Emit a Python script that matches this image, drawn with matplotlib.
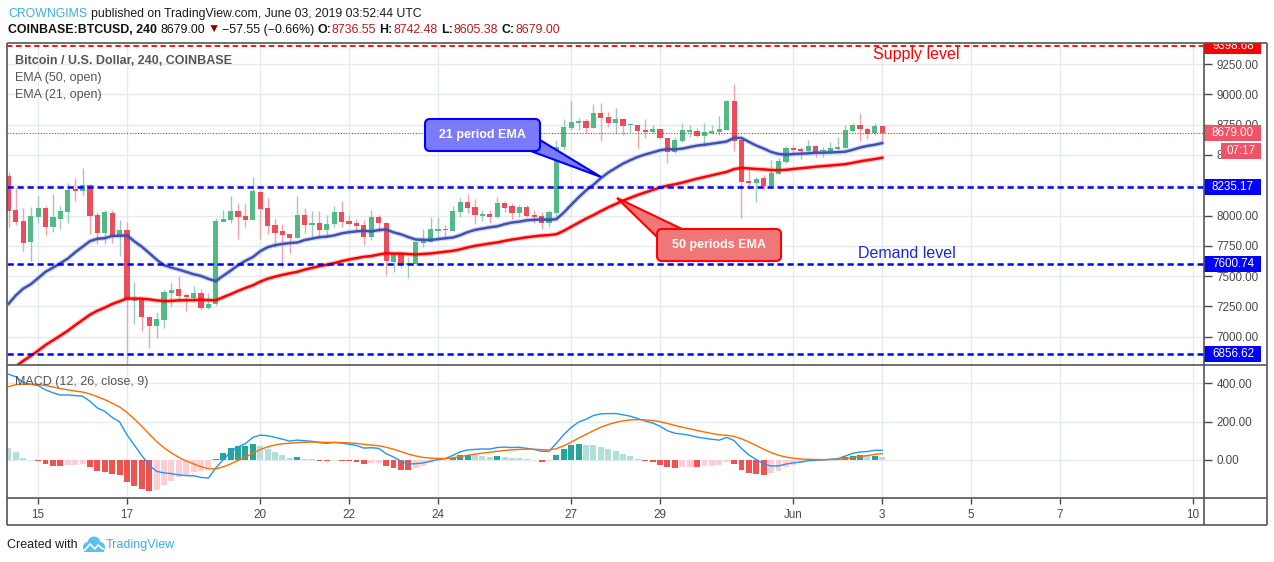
import numpy as np
import pandas as pd
import matplotlib
matplotlib.use("Agg")
import matplotlib.pyplot as plt
from matplotlib.patches import Rectangle, FancyBboxPatch, Polygon, Circle

plt.rcParams['font.family'] = ['Liberation Sans', 'DejaVu Sans']

# ---------------- data (4h candles, COINBASE:BTCUSD) ----------------
START = "2019-05-14 08:00"
opens = [8326, 8045, 7955, 7783, 7990, 8060, 7907, 7971, 8031, 8211,
         8205, 8252, 8004, 7858, 8018, 7839, 7880, 7290, 7302, 7164,
         7089, 7136, 7362, 7393, 7343, 7321, 7357, 7238, 7266, 7949,
         7963, 8037, 7996, 7963, 8194, 8064, 7921, 7872, 7847, 7817,
         8004, 7925, 7936, 7880, 7927, 8029, 7957, 7936, 7921, 7820,
         7985, 7940, 7618, 7688, 7591, 7599, 7775, 7783, 7875, 7885,
         7874, 8031, 8114, 8070, 8000, 8012, 7985, 8106, 8079, 8023,
         8073, 8004, 7996, 7936, 8023, 8569, 8726, 8767, 8781, 8726,
         8850, 8817, 8767, 8797, 8745, 8748, 8707, 8693, 8715, 8638,
         8527, 8618, 8693, 8698, 8659, 8679, 8688, 8707, 8949, 8624,
         8288, 8271, 8307, 8244, 8343, 8445, 8555, 8547, 8533, 8574,
         8533, 8533, 8550, 8560, 8701, 8748, 8712, 8679, 8736.55]
highs = [8360, 8227, 8062, 8073, 8161, 8079, 8178, 8079, 8266, 8307,
         8390, 8260, 8031, 8045, 8045, 7963, 7949, 7453, 7329, 7170,
         7205, 7390, 7440, 7500, 7362, 7417, 7395, 7362, 7977, 8045,
         8161, 8101, 8101, 8321, 8211, 8147, 7969, 7930, 7850, 8161,
         8060, 8040, 8040, 8004, 8079, 8122, 8004, 7969, 7963, 8045,
         8004, 7949, 7693, 7701, 7660, 7785, 7888, 7985, 7985, 7921,
         8079, 8142, 8178, 8134, 8045, 8045, 8155, 8122, 8101, 8087,
         8087, 8045, 8031, 8045, 8624, 8795, 8949, 8803, 8795, 8921,
         8932, 8853, 8888, 8800, 8762, 8750, 8795, 8748, 8720, 8640,
         8651, 8767, 8748, 8720, 8767, 8748, 8822, 8952, 9087, 8638,
         8382, 8321, 8335, 8459, 8473, 8574, 8583, 8569, 8624, 8583,
         8569, 8610, 8651, 8748, 8767, 8845, 8734, 8767, 8742.48]
lows = [7907, 7921, 7709, 7626, 7940, 7839, 7866, 7888, 7940, 8122,
        8161, 7847, 7764, 7764, 7775, 7665, 6700, 7103, 7048, 6903,
        6985, 7068, 7246, 7302, 7213, 7283, 7219, 7230, 7260, 7945,
        7936, 7806, 7902, 7960, 7806, 7847, 7737, 7577, 7693, 7815,
        7853, 7820, 7820, 7820, 7907, 7907, 7921, 7880, 7756, 7798,
        7866, 7508, 7536, 7564, 7481, 7595, 7737, 7780, 7798, 7803,
        7870, 7985, 8018, 7930, 7957, 7936, 7980, 8031, 7969, 7990,
        7985, 7940, 7886, 7907, 7990, 8541, 8707, 8707, 8684, 8720,
        8616, 8734, 8682, 8665, 8693, 8555, 8638, 8679, 8630, 8431,
        8519, 8610, 8651, 8646, 8574, 8675, 8665, 8705, 8535, 7982,
        8217, 8114, 8211, 8238, 8340, 8431, 8519, 8464, 8527, 8481,
        8486, 8519, 8541, 8555, 8693, 8618, 8632, 8665, 8605.38]
closes = [8040, 7949, 7775, 7996, 8060, 7907, 7985, 8037, 8211, 8205,
          8252, 7998, 7858, 8031, 7839, 7880, 7302, 7305, 7159, 7089,
          7145, 7365, 7384, 7335, 7329, 7357, 7238, 7269, 7955, 7971,
          8037, 7990, 7963, 8202, 8054, 7916, 7858, 7839, 7817, 8004,
          7921, 7935, 7880, 7930, 8029, 7949, 7930, 7913, 7820, 7985,
          7936, 7626, 7688, 7591, 7605, 7783, 7803, 7888, 7888, 7880,
          8037, 8114, 8060, 8004, 8012, 7990, 8106, 8064, 8023, 8073,
          7996, 7990, 7936, 8031, 8569, 8734, 8775, 8783, 8726, 8850,
          8808, 8767, 8797, 8742, 8748, 8701, 8693, 8715, 8638, 8527,
          8624, 8707, 8698, 8659, 8693, 8701, 8715, 8949, 8618, 8279,
          8271, 8302, 8244, 8349, 8450, 8555, 8541, 8533, 8574, 8527,
          8541, 8555, 8564, 8707, 8748, 8712, 8674, 8740, 8679.00]

# indicator starting values read at the first visible bar
EMA21_START = 7270
EMA50_START = 6700
EMA26_START = 7250
MACD_START = 447
SIGNAL_START = 383

# horizontal levels
supply_level = 9398.68
blue_levels = [8235.17, 7600.74, 6856.62]
last_price = 8679.00
countdown = "07:17"

price_ticks = [7000, 7250, 7500, 7750, 8000, 8250, 8500, 8750, 9000, 9250]
hidden_price_labels = [8250]          # fully covered by a level label in the reference
macd_ticks = [0, 200, 400]
date_labels = ["15", "17", "20", "22", "24", "27", "29", "Jun", "3", "5", "7", "10"]
date_values = ["2019-05-15", "2019-05-17", "2019-05-20", "2019-05-22", "2019-05-24",
               "2019-05-27", "2019-05-29", "2019-06-01", "2019-06-03", "2019-06-05",
               "2019-06-07", "2019-06-10"]

# ---------------- computations ----------------
o = np.array(opens, float); h = np.array(highs, float)
l = np.array(lows, float); c = np.array(closes, float)
n = len(o)
t0 = pd.Timestamp(START)
x = np.arange(n, dtype=float)
tick_x = [(pd.Timestamp(d) - t0) / pd.Timedelta(hours=4) for d in date_values]


def ema_from(series, start, period):
    a = 2.0 / (period + 1)
    out = [start]
    for v in series[1:]:
        out.append(out[-1] + a * (v - out[-1]))
    return np.array(out)


ema21 = ema_from(o, EMA21_START, 21)
ema50 = ema_from(o, EMA50_START, 50)
ema26 = ema_from(c, EMA26_START, 26)
ema12 = ema_from(c, EMA26_START + MACD_START, 12)
macd = ema12 - ema26
signal = ema_from(macd, SIGNAL_START, 9)
hist = macd - signal
hcol = []
for i in range(n):
    prev = hist[i - 1] if i > 0 else hist[i] + 1
    if hist[i] >= 0:
        hcol.append('#26A69A' if hist[i] > prev else '#B2DFDB')
    else:
        hcol.append('#EF5350' if hist[i] < prev else '#FFCDD2')

# ---------------- figure ----------------
W, H = 1274, 562
fig = plt.figure(figsize=(W / 100, H / 100), dpi=100)
fig.patch.set_facecolor('white')


def rect(x0, y0, x1, y1):
    return [x0 / W, 1 - y1 / H, (x1 - x0) / W, (y1 - y0) / H]


PX = 7.404
XL = (7 - 8.5) / PX
XR = (1204 - 8.5) / PX
PPX = 8.264  # price per pixel
YLO, YHI = 8000 - 149.5 * PPX, 8000 + 172.5 * PPX
MPX = 200 / 38.33
grid_c = '#E3EBF0'
axis_txt = '#4A4A4A'

ax = fig.add_axes(rect(7, 43, 1204, 365))
axm = fig.add_axes(rect(7, 365, 1204, 498), sharex=ax)
for a in (ax, axm):
    for s in a.spines.values():
        s.set_visible(False)
    a.set_xlim(XL, XR)
    a.set_xticks(tick_x)
    a.grid(True, color=grid_c, lw=1.0)
    a.set_axisbelow(True)
ax.set_ylim(YLO, YHI)
axm.set_ylim((460 - 498) * MPX, (460 - 365) * MPX)

ax.set_yticks(price_ticks)
ax.set_yticklabels(["" if v in hidden_price_labels else f"{v:.2f}" for v in price_ticks])
ax.yaxis.tick_right()
ax.tick_params(axis='y', which='both', direction='out', length=6, width=1,
               color=axis_txt, labelcolor=axis_txt, labelsize=8.4, pad=3)
ax.tick_params(axis='x', length=0, labelbottom=False)

axm.set_yticks(macd_ticks)
axm.set_yticklabels([f"{v:.2f}" for v in macd_ticks])
axm.yaxis.tick_right()
axm.tick_params(axis='y', direction='out', length=6, width=1,
                color=axis_txt, labelcolor=axis_txt, labelsize=8.4, pad=3)
axm.set_xticklabels(date_labels)
axm.tick_params(axis='x', direction='out', length=4, width=1,
                color=axis_txt, labelcolor=axis_txt, labelsize=8.4, pad=4)

# candles
up = c >= o
body_lo = np.minimum(o, c)
body_h = np.maximum(np.abs(c - o), 12)
wick_col = np.where(up, '#9CCAC2', '#F2A3AB')
body_col = np.where(up, '#53B987', '#EB4D5C')
ax.vlines(x, l, h, colors=wick_col, lw=1.0, zorder=3)
ax.bar(x, body_h, bottom=body_lo, width=0.7, color=body_col, zorder=4, lw=0)

# EMAs
ax.plot(x, ema50, color='#FF0000', lw=3.6, alpha=0.2, zorder=5, solid_capstyle='round')
ax.plot(x, ema50, color='#FF0000', lw=1.8, zorder=5)
ax.plot(x, ema21, color='#3F51B5', lw=3.6, alpha=0.2, zorder=5, solid_capstyle='round')
ax.plot(x, ema21, color='#3F51B5', lw=1.8, zorder=5)

# levels
ax.axhline(supply_level, color='#FF0000', lw=1.3, ls=(0, (3, 2)), zorder=6)
for lv in blue_levels:
    ax.axhline(lv, color='#0000FF', lw=1.8, ls=(0, (2.5, 1.5)), zorder=6)
ax.axhline(last_price, color='#D32F2F', lw=0.8, ls=(0, (1, 1.5)), zorder=6)

# MACD pane
axm.bar(x, hist, width=0.8, color=hcol, lw=0, zorder=3)
axm.plot(x, macd, color='#2196F3', lw=1.0, zorder=4)
axm.plot(x, signal, color='#FF6D00', lw=1.0, zorder=4)

# price scale label boxes (clipped to scale area)
axs = fig.add_axes(rect(1204, 43, 1267, 365), sharey=ax)
axs.axis('off')
axs.set_xlim(0, 63)
box_h = 16 * PPX


def price_box(val, color, text, x0=0, x1=57):
    axs.add_patch(Rectangle((x0, val - box_h / 2), x1 - x0, box_h, color=color, lw=0, zorder=5))
    axs.text((x0 + x1) / 2 + 0.5, val, text, color='white', fontsize=8.4, ha='center',
             va='center', zorder=6, clip_on=True)


price_box(supply_level, '#FF0000', f"{supply_level:.2f}")
for lv in blue_levels:
    price_box(lv, '#0000FF', f"{lv:.2f}")
price_box(last_price, '#EF5366', f"{last_price:.2f}")
price_box(last_price - 18 * PPX, '#EF5366', countdown, x0=17)

# ---------------- overlay (pixel coordinates) ----------------
ov = fig.add_axes([0, 0, 1, 1], zorder=10)
ov.set_xlim(0, W); ov.set_ylim(H, 0)
ov.axis('off')
ov.patch.set_alpha(0)
fc = '#555555'
for (x0, y0, x1, y1) in [(7, 43, 1267, 43), (7, 43, 7, 525), (1267, 43, 1267, 525),
                         (7, 525, 1267, 525), (1204, 43, 1204, 525), (7, 365, 1267, 365),
                         (7, 498, 1267, 498)]:
    ov.plot([x0, x1], [y0, y1], color=fc, lw=1.2, solid_capstyle='butt')

renderer = fig.canvas.get_renderer()


def flow(y, pieces, x0=8, fs=9):
    xx = x0
    for s, col, wt, gap in pieces:
        t = ov.text(xx, y, s, color=col, fontweight=wt, fontsize=fs, ha='left', va='center')
        xx += t.get_window_extent(renderer).width + gap


dred = '#B71C1C'
flow(14, [("CROWNGIMS", '#3BAFDA', 'normal', 4),
          ("published on TradingView.com, June 03, 2019 03:52:44 UTC", '#1A1A1A', 'normal', 0)],
     fs=8.8)
flow(30, [("COINBASE:BTCUSD, 240", '#111111', 'bold', 4),
          (f"{last_price:.2f}", '#111111', 'normal', 2),
          ("▼", '#8B0000', 'normal', 2),
          ("\u221257.55 (\u22120.66%)", '#111111', 'normal', 3),
          ("O:", '#111111', 'bold', 1), (f"{opens[-1]:.2f}", dred, 'normal', 3),
          ("H:", '#111111', 'bold', 1), (f"{highs[-1]:.2f}", dred, 'normal', 3),
          ("L:", '#111111', 'bold', 1), (f"{lows[-1]:.2f}", dred, 'normal', 3),
          ("C:", '#111111', 'bold', 1), (f"{closes[-1]:.2f}", dred, 'normal', 0)],
     fs=8.9)

ov.text(15, 61, "Bitcoin / U.S. Dollar, 240, COINBASE", color='#555555', fontsize=9,
        fontweight='bold', va='center')
ov.text(15, 78, "EMA (50, open)", color='#555555', fontsize=9, va='center')
ov.text(15, 95, "EMA (21, open)", color='#555555', fontsize=9, va='center')
ov.text(15, 382, "MACD (12, 26, close, 9)", color='#555555', fontsize=9, va='center')

ov.text(916, 54, "Supply level", color='#FF0000', fontsize=11.5, ha='center', va='center')
ov.text(907, 254, "Demand level", color='#1B2ACF', fontsize=11.5, ha='center', va='center')

# callouts
ov.add_patch(Polygon([(528, 150), (540, 140), (601, 177)], closed=True, fc='#7B7BF7',
                     ec='#0000FF', lw=1.5, zorder=11))
ov.add_patch(FancyBboxPatch((425, 119), 115, 32, boxstyle="round,pad=0,rounding_size=5",
                            fc='#7B7BF7', ec='#0000FF', lw=1.5, zorder=12))
ov.text(482.5, 135, "21 period EMA", color='white', fontsize=9, fontweight='bold',
        ha='center', va='center', zorder=13)
ov.add_patch(Polygon([(617, 198), (658, 238), (682, 229)], closed=True, fc='#F07777',
                     ec='#FF0000', lw=1.5, zorder=11))
ov.add_patch(FancyBboxPatch((657, 229), 124, 32, boxstyle="round,pad=0,rounding_size=5",
                            fc='#F07777', ec='#FF0000', lw=1.5, zorder=12))
ov.text(719, 245, "50 periods EMA", color='white', fontsize=9, fontweight='bold',
        ha='center', va='center', zorder=13)

# footer
ov.text(7, 545, "Created with", color='#1A1A1A', fontsize=9, va='center')
for cx, cy, r in [(88, 547, 5), (94, 543, 6.5), (100, 547, 5)]:
    ov.add_patch(Circle((cx, cy), r, color='#5BC0EB', lw=0))
ov.add_patch(Rectangle((84, 546), 20, 6, color='#5BC0EB', lw=0))
ov.plot([85, 90, 95, 98, 103], [550, 544, 549, 545, 549], color='white', lw=1.2)
ov.text(106, 545, "TradingView", color='#3BAFDA', fontsize=9, va='center')

fig.savefig("out.png", dpi=100, facecolor='white')
